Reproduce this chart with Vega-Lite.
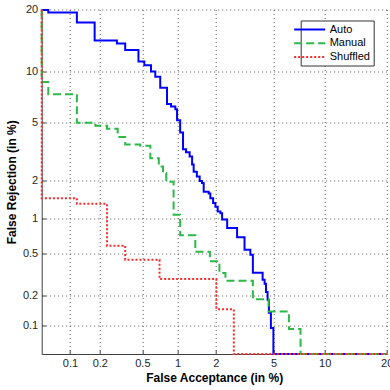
{
  "$schema": "https://vega.github.io/schema/vega-lite/v6.json",
  "width": 345,
  "height": 344.5,
  "autosize": {"type": "none"},
  "padding": {"left": 41.7, "top": 9.5, "right": 3.3, "bottom": 36},
  "background": "white",
  "config": {"view": {"stroke": null}, "font": "Liberation Sans"},
  "data": {
    "values": [
      {"series": "Auto", "fa": 0.05, "fr": 19.9},
      {"series": "Auto", "fa": 0.059, "fr": 19.4},
      {"series": "Auto", "fa": 0.118, "fr": 17.5},
      {"series": "Auto", "fa": 0.178, "fr": 14.4},
      {"series": "Auto", "fa": 0.292, "fr": 13.95},
      {"series": "Auto", "fa": 0.349, "fr": 12.95},
      {"series": "Auto", "fa": 0.461, "fr": 11.3},
      {"series": "Auto", "fa": 0.52, "fr": 10.8},
      {"series": "Auto", "fa": 0.596, "fr": 10.0},
      {"series": "Auto", "fa": 0.649, "fr": 9.36},
      {"series": "Auto", "fa": 0.716, "fr": 8.12},
      {"series": "Auto", "fa": 0.817, "fr": 6.52},
      {"series": "Auto", "fa": 0.884, "fr": 6.28},
      {"series": "Auto", "fa": 0.959, "fr": 6.04},
      {"series": "Auto", "fa": 0.991, "fr": 5.16},
      {"series": "Auto", "fa": 1.051, "fr": 4.31},
      {"series": "Auto", "fa": 1.109, "fr": 3.33},
      {"series": "Auto", "fa": 1.173, "fr": 3.17},
      {"series": "Auto", "fa": 1.253, "fr": 2.96},
      {"series": "Auto", "fa": 1.311, "fr": 2.6},
      {"series": "Auto", "fa": 1.349, "fr": 2.3},
      {"series": "Auto", "fa": 1.429, "fr": 2.12},
      {"series": "Auto", "fa": 1.504, "fr": 1.97},
      {"series": "Auto", "fa": 1.568, "fr": 1.9},
      {"series": "Auto", "fa": 1.615, "fr": 1.63},
      {"series": "Auto", "fa": 1.763, "fr": 1.58},
      {"series": "Auto", "fa": 1.816, "fr": 1.45},
      {"series": "Auto", "fa": 1.905, "fr": 1.33},
      {"series": "Auto", "fa": 1.981, "fr": 1.24},
      {"series": "Auto", "fa": 2.061, "fr": 1.14},
      {"series": "Auto", "fa": 2.16, "fr": 1.1},
      {"series": "Auto", "fa": 2.222, "fr": 0.98},
      {"series": "Auto", "fa": 2.419, "fr": 0.83},
      {"series": "Auto", "fa": 2.848, "fr": 0.695},
      {"series": "Auto", "fa": 3.21, "fr": 0.54},
      {"series": "Auto", "fa": 3.52, "fr": 0.487},
      {"series": "Auto", "fa": 3.66, "fr": 0.334},
      {"series": "Auto", "fa": 4.25, "fr": 0.287},
      {"series": "Auto", "fa": 4.38, "fr": 0.263},
      {"series": "Auto", "fa": 4.47, "fr": 0.219},
      {"series": "Auto", "fa": 4.58, "fr": 0.184},
      {"series": "Auto", "fa": 4.67, "fr": 0.136},
      {"series": "Auto", "fa": 4.81, "fr": 0.095},
      {"series": "Auto", "fa": 4.99, "fr": 0.05},
      {"series": "Auto", "fa": 20, "fr": 0.05},
      {"series": "Manual", "fa": 0.05, "fr": 20},
      {"series": "Manual", "fa": 0.05, "fr": 8.75},
      {"series": "Manual", "fa": 0.059, "fr": 7.44},
      {"series": "Manual", "fa": 0.118, "fr": 4.99},
      {"series": "Manual", "fa": 0.181, "fr": 4.76},
      {"series": "Manual", "fa": 0.235, "fr": 4.55},
      {"series": "Manual", "fa": 0.297, "fr": 4.03},
      {"series": "Manual", "fa": 0.349, "fr": 3.58},
      {"series": "Manual", "fa": 0.479, "fr": 3.51},
      {"series": "Manual", "fa": 0.588, "fr": 2.88},
      {"series": "Manual", "fa": 0.696, "fr": 2.51},
      {"series": "Manual", "fa": 0.757, "fr": 2.25},
      {"series": "Manual", "fa": 0.806, "fr": 1.94},
      {"series": "Manual", "fa": 0.928, "fr": 1.07},
      {"series": "Manual", "fa": 1.051, "fr": 0.72},
      {"series": "Manual", "fa": 1.39, "fr": 0.518},
      {"series": "Manual", "fa": 1.8, "fr": 0.425},
      {"series": "Manual", "fa": 2.123, "fr": 0.332},
      {"series": "Manual", "fa": 2.35, "fr": 0.281},
      {"series": "Manual", "fa": 3.66, "fr": 0.186},
      {"series": "Manual", "fa": 4.65, "fr": 0.14},
      {"series": "Manual", "fa": 6.23, "fr": 0.0925},
      {"series": "Manual", "fa": 7.31, "fr": 0.05},
      {"series": "Manual", "fa": 20, "fr": 0.05},
      {"series": "Shuffled", "fa": 0.05, "fr": 20},
      {"series": "Shuffled", "fa": 0.05, "fr": 1.45},
      {"series": "Shuffled", "fa": 0.118, "fr": 1.31},
      {"series": "Shuffled", "fa": 0.235, "fr": 0.585},
      {"series": "Shuffled", "fa": 0.349, "fr": 0.439},
      {"series": "Shuffled", "fa": 0.706, "fr": 0.291},
      {"series": "Shuffled", "fa": 2.015, "fr": 0.148},
      {"series": "Shuffled", "fa": 2.7, "fr": 0.05},
      {"series": "Shuffled", "fa": 20, "fr": 0.05}
    ]
  },
  "transform": [
    {"calculate": "quantileNormal(datum.fa / 100)", "as": "qx"},
    {"calculate": "quantileNormal(datum.fr / 100)", "as": "qy"}
  ],
  "mark": {"type": "line", "interpolate": "step-after", "strokeWidth": 2},
  "encoding": {
    "x": {
      "field": "qx",
      "type": "quantitative",
      "scale": {"domain": [-3.290527, -0.841621], "nice": false, "zero": false},
      "axis": {
        "values": [-3.090232, -2.878162, -2.575829, -2.326348, -2.053749, -1.644854, -1.281552, -0.841621],
        "labelExpr": "format(cumulativeNormal(datum.value) * 100, '.2~g')",
        "title": "False Acceptance (in %)",
        "titleFontSize": 12,
        "titleFontWeight": "bold",
        "titleColor": "#000000",
        "titlePadding": 4,
        "labelFontSize": 11,
        "labelColor": "#262626",
        "labelFlush": false,
        "labelOverlap": false,
        "labelPadding": 7.5,
        "tickSize": -4,
        "tickColor": "#404040",
        "domainColor": "#404040",
        "grid": true,
        "gridDash": [1, 3],
        "gridColor": "#333333",
        "gridOpacity": 0.8
      }
    },
    "y": {
      "field": "qy",
      "type": "quantitative",
      "scale": {"domain": [-3.290527, -0.841621], "nice": false, "zero": false},
      "axis": {
        "values": [-3.090232, -2.878162, -2.575829, -2.326348, -2.053749, -1.644854, -1.281552, -0.841621],
        "labelExpr": "format(cumulativeNormal(datum.value) * 100, '.2~g')",
        "title": "False Rejection (in %)",
        "titleFontSize": 12,
        "titleFontWeight": "bold",
        "titleColor": "#000000",
        "titlePadding": 4,
        "labelFontSize": 11,
        "labelColor": "#262626",
        "labelFlush": false,
        "labelOverlap": false,
        "labelPadding": 8,
        "tickSize": -4,
        "tickColor": "#404040",
        "domainColor": "#404040",
        "grid": true,
        "gridDash": [1, 3],
        "gridColor": "#333333",
        "gridOpacity": 0.8
      }
    },
    "color": {
      "field": "series",
      "type": "nominal",
      "scale": {"domain": ["Auto", "Manual", "Shuffled"], "range": ["#0000ff", "#2db84a", "#ff2a2a"]},
      "legend": {
        "title": null,
        "orient": "none",
        "legendX": 259,
        "legendY": 11,
        "symbolType": "M-3.1,0H3.1",
        "symbolSize": 100,
        "symbolStrokeWidth": 2,
        "labelFontSize": 11,
        "labelColor": "#000000",
        "labelOffset": 14,
        "padding": 3,
        "strokeColor": "#333333",
        "fillColor": "white",
        "rowPadding": 2.7
      }
    },
    "strokeDash": {
      "field": "series",
      "type": "nominal",
      "scale": {"domain": ["Auto", "Manual", "Shuffled"], "range": [[1, 0], [8, 4], [2, 2]]}
    },
    "order": {"value": null}
  }
}
